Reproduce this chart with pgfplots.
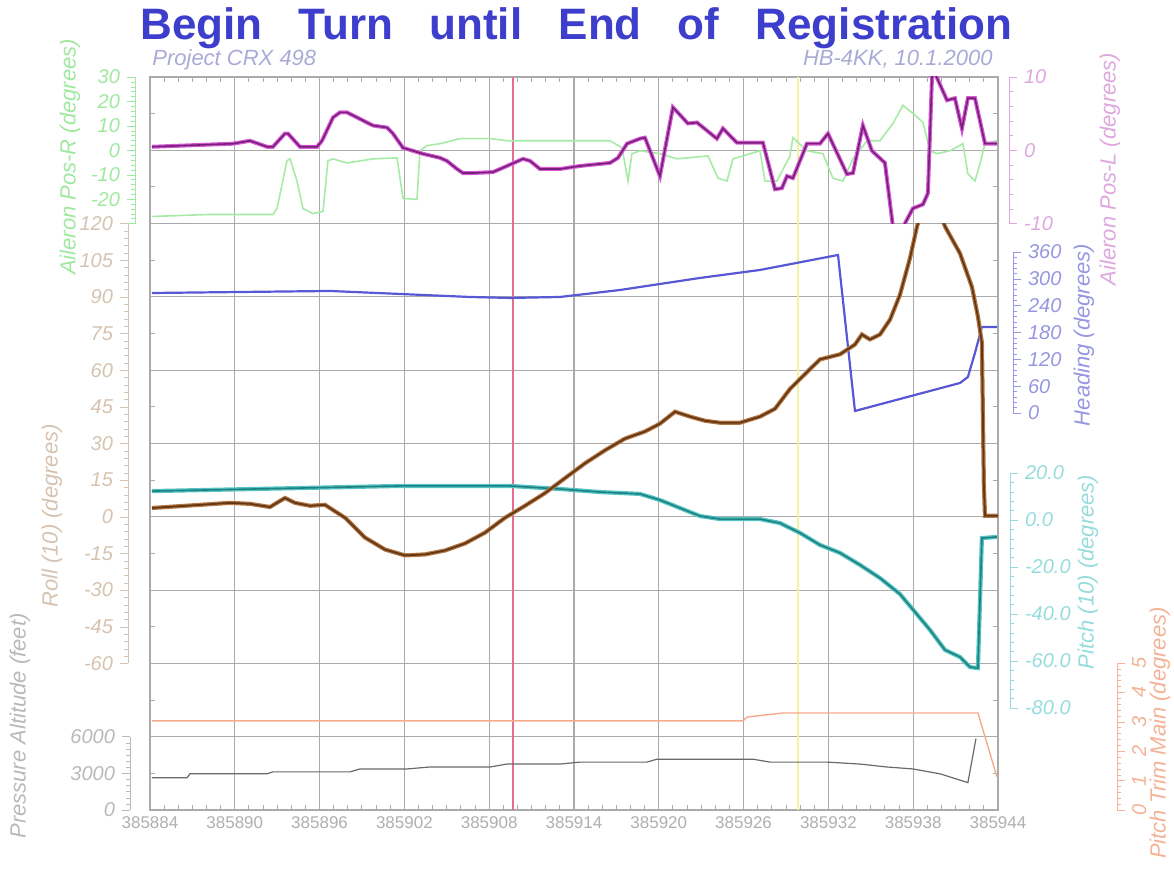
\documentclass[border=0pt]{standalone}
\usepackage{fontspec}
\setmainfont{Liberation Sans}
\usepackage{pgfplots}
\pgfplotsset{compat=1.18}
\definecolor{cgrid}{RGB}{170,170,170}
\definecolor{ctext}{RGB}{175,175,175}
\definecolor{ctitle}{RGB}{62,62,205}
\definecolor{csub}{RGB}{170,170,215}
\definecolor{cgreen}{RGB}{165,235,165}
\definecolor{cgreenT}{RGB}{160,232,160}
\definecolor{cmag}{RGB}{212,90,212}
\definecolor{cmagD}{RGB}{120,30,120}
\definecolor{cmagT}{RGB}{222,168,222}
\definecolor{cblue}{RGB}{88,88,214}
\definecolor{cblueT}{RGB}{150,150,226}
\definecolor{cbrown}{RGB}{180,120,70}
\definecolor{cbrownD}{RGB}{100,55,20}
\definecolor{cbrownT}{RGB}{214,194,176}
\definecolor{ccyan}{RGB}{85,195,195}
\definecolor{ccyanD}{RGB}{30,130,130}
\definecolor{ccyanT}{RGB}{150,220,220}
\definecolor{cpress}{RGB}{105,105,105}
\definecolor{cpressT}{RGB}{185,185,185}
\definecolor{ctrim}{RGB}{245,170,140}
\definecolor{ctrimT}{RGB}{244,178,150}
\definecolor{cred}{RGB}{228,110,140}
\definecolor{cyellow}{RGB}{242,242,160}
\newcommand\ticklab{\fontsize{10}{12}\selectfont\itshape}
\newcommand\axlab{\fontsize{11}{13}\selectfont\itshape}
\pgfplotsset{
  /pgf/number format/assume math mode=true,
  dat/.style={at={(0,#1)}, anchor=south west, scale only axis, width=424pt,
    xmin=0, xmax=60, hide axis},
  decoL/.style={scale only axis, width=2pt, xmin=0, xmax=1, axis x line=none,
    axis y line=left, tick align=outside, major tick length=4pt, minor tick length=2pt,
    anchor=south west, yticklabel style={font=\ticklab}, scaled y ticks=false,
    /pgf/number format/1000 sep={}},
  decoR/.style={scale only axis, width=2pt, xmin=0, xmax=1, axis x line=none,
    axis y line=right, tick align=outside, major tick length=4pt, minor tick length=2pt,
    anchor=south east, yticklabel style={font=\ticklab}, scaled y ticks=false,
    /pgf/number format/1000 sep={}},
}
\begin{document}
\begin{tikzpicture}
\path[use as bounding box] (-75pt,-33.5pt) rectangle (512pt,405pt);

% ---------- grid / frame ----------
\begin{axis}[at={(0,0)}, anchor=south west, scale only axis, width=424pt, height=366.5pt,
  xmin=0, xmax=60, ymin=0, ymax=10,
  xtick={0,6,...,60},
  xticklabels={385884,385890,385896,385902,385908,385914,385920,385926,385932,385938,385944},
  minor x tick num=5,
  ytick={0,1,...,10}, yticklabels={}, minor y tick num=1,
  grid=major, major grid style={color=cgrid, line width=0.55pt},
  axis line style={color=cgrid, line width=0.7pt},
  tick style={color=cgrid, line width=0.5pt},
  tick align=inside, major tick length=3pt, minor tick length=2.5pt,
  xticklabel style={font=\fontsize{8.5}{10}\selectfont, text=ctext},
  ]
\addplot[cred, line width=0.6pt] coordinates {(25.68,0) (25.68,10)};
\addplot[cyellow, line width=0.8pt] coordinates {(45.85,0) (45.85,10)};
\end{axis}

% ---------- pressure altitude ----------
\begin{axis}[dat=0pt, height=36.65pt, ymin=0, ymax=6000]
\addplot[cpress, line width=0.6pt] table {
0.14 2640
2.62 2640
2.83 2960
8.28 2960
8.70 3120
14.15 3120
14.86 3360
18.19 3360
19.81 3520
24.06 3520
25.26 3760
29.01 3760
30.42 3920
35.16 3920
35.87 4160
42.66 4160
43.87 3920
47.90 3920
50.23 3760
52.14 3520
53.98 3360
55.90 2960
57.87 2240
58.44 5840
};
\end{axis}

% ---------- pitch trim main ----------
\begin{axis}[dat=0pt, height=73.5pt, ymin=0, ymax=5]
\addplot[ctrim, line width=0.7pt] table {
0.14 3.03
41.95 3.03
42.24 3.16
44.78 3.30
58.58 3.30
59.93 1.12
};
\end{axis}

% ---------- heading ----------
\begin{axis}[dat=198.5pt, height=80.5pt, ymin=0, ymax=360, clip=false]
\addplot[cblue, line width=1.1pt] table {
0.14 268.3
12.74 272.8
17.69 266.1
22.64 259.4
25.47 257.2
29.01 259.4
33.25 275.0
38.91 301.9
43.16 319.8
48.68 353.3
49.88 4.5
57.31 67.1
57.87 80.5
58.37 134.2
58.86 192.3
59.93 192.3
};
\end{axis}

% ---------- pitch ----------
\begin{axis}[dat=51pt, height=117.5pt, ymin=-80, ymax=20, clip=false]
\pgfplotstableread{
x y
0.14 12.3
10.61 13.6
17.69 14.5
25.47 14.5
29.01 13.2
31.84 11.9
34.67 11.1
36.08 8.5
37.50 5.1
38.91 1.7
40.33 0.4
43.16 0.4
44.57 -1.3
45.99 -5.5
47.40 -10.6
48.82 -14.0
50.23 -19.1
51.65 -24.7
53.06 -31.5
54.12 -39.1
55.19 -46.8
56.25 -55.3
57.31 -58.3
58.02 -62.6
58.58 -63.0
58.86 -7.7
59.93 -7.2
}\pitchtab
\addplot[ccyan, line width=2.1pt] table {\pitchtab};
\addplot[ccyanD, line width=0.8pt] table {\pitchtab};
\end{axis}

% ---------- roll ----------
\begin{axis}[dat=73.3pt, height=219.9pt, ymin=-60, ymax=120]
\pgfplotstableread{
x y
0.14 3.6
5.66 5.7
7.08 5.3
8.49 4.0
9.55 7.7
10.26 5.7
11.32 4.5
12.38 4.9
13.80 -0.4
15.21 -8.5
16.63 -13.4
18.04 -15.8
19.46 -15.4
20.87 -13.8
22.29 -10.9
23.70 -6.5
25.12 -0.4
26.53 4.5
27.95 9.7
29.36 15.8
30.78 21.9
32.19 27.2
33.61 32.0
35.02 34.9
36.08 38.1
37.15 43.0
38.21 41.0
39.27 39.3
40.33 38.5
41.74 38.5
43.16 41.0
44.22 44.2
45.28 52.3
46.34 58.4
47.40 64.4
48.82 66.5
49.88 70.5
50.37 74.6
50.94 72.6
51.65 74.6
52.36 80.7
53.06 90.8
53.77 105.8
54.27 118.8
55.19 135
56.25 118.8
57.31 107.8
58.16 94.0
58.58 81.9
58.86 71.3
59.00 13.0
59.08 0.4
60.00 0.4
}\rolltab
\addplot[cbrown, line width=2.1pt] table {\rolltab};
\addplot[cbrownD, line width=0.9pt] table {\rolltab};
\end{axis}

% ---------- aileron R (green) ----------
\begin{axis}[dat=293.2pt, height=73.3pt, ymin=-30, ymax=30]
\addplot[cgreen, line width=0.8pt] table {
0.14 -27.1
4.03 -26.3
8.70 -26.3
8.99 -23.8
9.69 -4.3
9.91 -3.5
10.40 -12.6
10.82 -23.8
11.53 -25.9
12.24 -25.0
12.59 -4.3
12.95 -3.5
13.94 -5.2
15.78 -3.5
17.48 -3.1
17.90 -19.7
18.89 -20.1
19.10 -0.2
19.60 1.9
20.52 2.7
21.93 4.8
24.06 4.8
25.26 3.9
29.01 3.9
32.55 3.9
33.40 1.0
33.82 -12.6
34.10 -1.4
34.67 -0.2
36.08 -1.4
37.29 -3.5
39.48 -2.3
40.19 -11.4
40.82 -12.6
41.25 -3.5
43.16 -0.2
43.51 -12.6
44.36 -12.6
45.28 -2.3
45.49 5.2
46.48 -0.2
47.61 -1.4
48.32 -11.4
49.03 -12.6
49.74 -3.5
50.73 3.9
51.65 3.9
52.57 11.0
53.27 18.4
53.98 15.1
54.69 11.4
55.19 -0.2
55.68 -1.4
56.60 -0.2
57.52 2.7
57.87 -9.7
58.37 -12.6
58.72 -5.6
59.08 2.7
59.93 3.9
};
\end{axis}

% ---------- aileron L (magenta) ----------
\begin{axis}[dat=293.2pt, height=73.3pt, ymin=-10, ymax=10]
\pgfplotstableread{
x y
0.14 0.48
5.87 0.9
7.07 1.3
8.28 0.48
8.70 0.48
9.55 2.28
9.76 2.28
10.61 0.48
11.82 0.48
12.17 1.3
12.95 4.48
13.44 5.17
13.94 5.17
15.35 3.79
15.78 3.38
16.77 3.1
17.19 2.28
17.90 0.34
18.61 -0.07
19.31 -0.48
20.52 -1.03
21.01 -1.45
21.72 -2.55
22.14 -3.1
22.85 -3.1
24.27 -2.97
25.26 -2.14
26.39 -1.17
26.89 -1.45
27.59 -2.55
29.01 -2.55
30.42 -2.14
32.55 -1.72
33.11 -1.03
33.75 0.9
34.67 1.59
35.02 1.72
36.08 -3.52
37.00 5.86
38.06 3.66
38.70 3.79
40.11 1.59
40.54 2.97
41.53 1.03
43.37 1.03
44.22 -5.31
44.71 -5.17
45.07 -3.52
45.49 -3.79
46.48 0.9
47.40 0.9
47.97 2.28
49.31 -3.24
49.74 -3.1
50.44 3.38
51.08 -0.07
52.00 -1.72
52.57 -10.5
53.27 -10.5
53.98 -7.93
54.69 -7.38
55.04 -5.86
55.33 10
55.54 10.5
56.39 6.83
56.95 7.1
57.45 2.97
57.87 7.1
58.37 7.1
59.08 0.9
59.93 0.9
}\magtab
\addplot[cmag, line width=2.0pt] table {\magtab};
\addplot[cmagD, line width=0.8pt] table {\magtab};
\end{axis}

% ---------- left axes ----------
\begin{axis}[decoL, at={(-7.5pt,293.2pt)}, height=73.3pt, ymin=-30, ymax=30,
  ytick={-30,-20,...,30}, yticklabels={,-20,-10,0,10,20,30}, minor y tick num=4,
  axis line style={-, color=cgreenT}, tick style={color=cgreenT}, yticklabel style={text=cgreenT}]
\end{axis}
\begin{axis}[decoL, at={(-11pt,73.3pt)}, height=219.9pt, ymin=-60, ymax=120,
  ytick={-60,-45,...,120}, minor y tick num=4,
  axis line style={-, color=cbrownT}, tick style={color=cbrownT}, yticklabel style={text=cbrownT}]
\end{axis}
\begin{axis}[decoL, at={(-10pt,0pt)}, height=36.65pt, ymin=0, ymax=6000,
  ytick={0,3000,6000}, minor y tick num=5,
  axis line style={-, color=cpressT}, tick style={color=cpressT}, yticklabel style={text=cpressT}]
\end{axis}

% ---------- right axes ----------
\begin{axis}[decoR, at={(429.5pt,293.2pt)}, height=73.3pt, ymin=-10, ymax=10,
  ytick={-10,0,10}, minor y tick num=4,
  axis line style={-, color=cmagT}, tick style={color=cmagT}, yticklabel style={text=cmagT}]
\end{axis}
\begin{axis}[decoR, at={(431.5pt,198.5pt)}, height=80.5pt, ymin=0, ymax=360,
  ytick={0,60,...,360}, minor y tick num=4,
  axis line style={-, color=cblueT}, tick style={color=cblueT}, yticklabel style={text=cblueT}]
\end{axis}
\begin{axis}[decoR, at={(430pt,51pt)}, height=117.5pt, ymin=-80, ymax=20,
  ytick={-80,-60,...,20}, minor y tick num=4,
  yticklabel style={text=ccyanT, /pgf/number format/.cd, fixed, fixed zerofill, precision=1},
  axis line style={-, color=ccyanT}, tick style={color=ccyanT}]
\end{axis}
\begin{axis}[decoR, at={(483.5pt,0pt)}, height=73.5pt, ymin=0, ymax=5,
  ytick={0,1,...,5}, minor y tick num=4,
  yticklabel style={text=ctrimT, rotate=90, anchor=north},
  axis line style={-, color=ctrimT}, tick style={color=ctrimT}]
\end{axis}

% ---------- texts ----------
\node[font=\fontsize{22}{26}\selectfont\bfseries, text=ctitle, anchor=base west, inner sep=0pt]
  at (-5pt,385pt) {\makebox[436pt][s]{Begin Turn until End of Registration}};
\node[font=\fontsize{11}{13}\selectfont\itshape, text=csub, anchor=base west, inner sep=0pt]
  at (1pt,372pt) {Project CRX 498};
\node[font=\fontsize{11}{13}\selectfont\itshape, text=csub, anchor=base east, inner sep=0pt]
  at (421.5pt,372pt) {HB-4KK, 10.1.2000};

\node[font=\axlab, text=cgreenT, rotate=90] at (-40pt,326.5pt) {Aileron Pos-R (degrees)};
\node[font=\axlab, text=cbrownT, rotate=90] at (-49pt,147pt) {Roll (10) (degrees)};
\node[font=\axlab, text=cpressT, rotate=90] at (-65pt,42pt) {Pressure Altitude (feet)};
\node[font=\axlab, text=cmagT, rotate=90] at (480pt,320.5pt) {Aileron Pos-L (degrees)};
\node[font=\axlab, text=cblueT, rotate=90] at (467pt,237.5pt) {Heading (degrees)};
\node[font=\axlab, text=ccyanT, rotate=90] at (469pt,119pt) {Pitch (10) (degrees)};
\node[font=\axlab, text=ctrimT, rotate=90] at (505pt,38.5pt) {Pitch Trim Main (degrees)};
\end{tikzpicture}
\end{document}
